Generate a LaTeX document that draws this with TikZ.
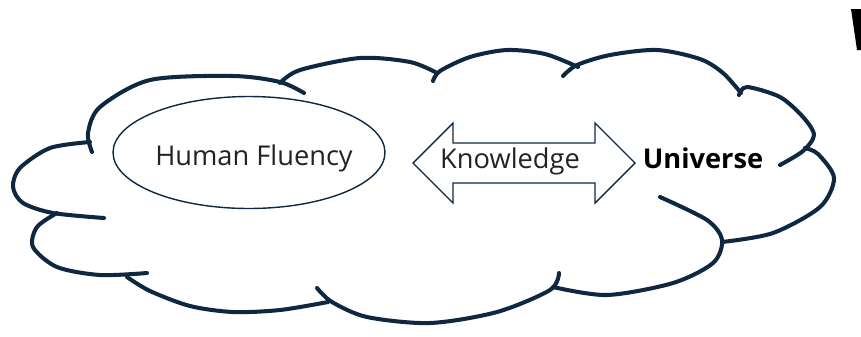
\documentclass[tikz,border=0pt]{standalone}
\usepackage{fontspec}
\setmainfont{Open Sans}
\usepackage{xcolor}
\usepackage{tikz}
\usetikzlibrary{shapes.geometric,positioning}
\definecolor{cloudnavy}{RGB}{14,40,65}
\definecolor{textgrey}{RGB}{34,34,34}

\begin{document}
\begin{tikzpicture}[
  x=0.02cm, y=-0.02cm,
  every node/.style={font=\fontsize{15.5}{18}\selectfont, text=textgrey, inner sep=0pt},
  lobe/.style={draw=cloudnavy, line width=2.3pt, line cap=round, line join=round},
  thinline/.style={draw=cloudnavy, line width=0.8pt, line join=miter},
]
\useasboundingbox (0,0) rectangle (861,336);

%% Cloud outline, one lobe at a time (pixel grid, y downwards)
%% every lobe runs a little past its neighbour to give the hooks
\draw[lobe] plot[smooth] coordinates {(92,152) (88,133) (100,107) (150,80) (233,76) (280,82) (304,93)};
\draw[lobe] plot[smooth] coordinates {(280,83) (300,70) (360,58) (410,62) (437,73)};
\draw[lobe] plot[smooth] coordinates {(433,81) (440,71) (470,57) (507,50) (545,54) (578,67)};
\draw[lobe] plot[smooth] coordinates {(563,76) (577,65) (610,55) (657,50) (700,59) (723,73) (741,93)};
\draw[lobe] plot[smooth] coordinates {(739,95) (747,87) (780,97) (803,117) (814,135) (803,151) (780,165)};
\draw[lobe] plot[smooth] coordinates {(805,148) (818,154) (834,178) (820,207) (773,233) (722,242)};
\draw[lobe] plot[smooth] coordinates {(553,287) (607,295) (673,283) (713,263) (722,240) (707,220) (660,197)};
\draw[lobe] plot[smooth] coordinates {(317,288) (332,302) (367,317) (430,323) (497,312) (550,290) (559,273)};
\draw[lobe] plot[smooth] coordinates {(127,277) (150,291) (190,306) (233,312) (280,310) (328,302)};
\draw[lobe] plot[smooth] coordinates {(57,213) (37,227) (33,247) (57,267) (100,275) (147,273)};
\draw[lobe] plot[smooth] coordinates {(90,142) (50,148) (20,168) (13,187) (23,203) (53,213) (104,218)};

%% Inner ellipse and its label
\node[ellipse, thinline, minimum width=5.44cm, minimum height=2.24cm] (fluencyring) at (249,152.5) {};
\node[anchor=base] (fluency) at (254,165) {Human Fluency};

%% Double-headed arrow with its label
\node[anchor=base] (know) at (510,168) {Knowledge};
\draw[thinline] (413,163) -- (453,123) -- (453,143) -- (595,143) -- (595,123)
  -- (635,163) -- (595,203) -- (595,183) -- (453,183) -- (453,203) -- cycle;

\node[anchor=base, font=\fontsize{15.5}{18}\selectfont\bfseries, text=black] (univ) at (703,168) {Universe};

%% cut-off glyph at the top right edge
\fill[black] (851,9) -- (861,9) -- (861,50) -- (857,50) -- cycle;

\end{tikzpicture}
\end{document}
